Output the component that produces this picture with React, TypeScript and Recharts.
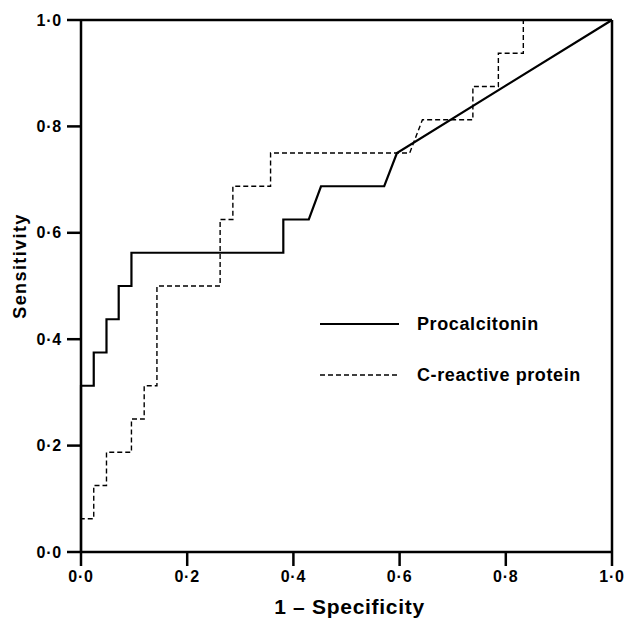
import React from 'react';
import {
  LineChart,
  Line,
  XAxis,
  YAxis,
  ReferenceLine,
  Label,
} from 'recharts';

// ROC points (1 - specificity, sensitivity)
const pctFpr = [0, 0, 0.024, 0.024, 0.048, 0.048, 0.071, 0.071, 0.095, 0.095, 0.381, 0.381, 0.429, 0.452, 0.571, 0.595, 1];
const pctTpr = [0, 0.3125, 0.3125, 0.375, 0.375, 0.4375, 0.4375, 0.5, 0.5, 0.5625, 0.5625, 0.625, 0.625, 0.6875, 0.6875, 0.75, 1];

const crpFpr = [0, 0, 0.024, 0.024, 0.048, 0.048, 0.095, 0.095, 0.119, 0.119, 0.143, 0.143, 0.262, 0.262, 0.286, 0.286, 0.357, 0.357, 0.619, 0.643, 0.738, 0.738, 0.786, 0.786, 0.833, 0.833, 1];
const crpTpr = [0, 0.0625, 0.0625, 0.125, 0.125, 0.1875, 0.1875, 0.25, 0.25, 0.3125, 0.3125, 0.5, 0.5, 0.625, 0.625, 0.6875, 0.6875, 0.75, 0.75, 0.8125, 0.8125, 0.875, 0.875, 0.9375, 0.9375, 1, 1];

const ticks = [0, 0.2, 0.4, 0.6, 0.8, 1.0];

const pctData = pctFpr.map((x, i) => ({ x, y: pctTpr[i] }));
const crpData = crpFpr.map((x, i) => ({ x, y: crpTpr[i] }));

const FONT = '"Liberation Sans", Arial, sans-serif';
const fmt = (v: number) => v.toFixed(1).replace('.', '·');

const tickStyle = { fill: '#000', fontSize: 16, fontWeight: 700, fontFamily: FONT, letterSpacing: 0.8 };

const LegendBox = () => (
  <svg width={280} height={90} style={{ position: 'absolute', left: 320, top: 310 }}>
    <line x1={0} x2={79} y1={14} y2={14} stroke="#000" strokeWidth={2.2} />
    <text x={97} y={20} fontSize={18} fontWeight={700} fontFamily={FONT} fill="#000" letterSpacing={0.6}>Procalcitonin</text>
    <line x1={0} x2={79} y1={65} y2={65} stroke="#000" strokeWidth={1.4} strokeDasharray="5 3" />
    <text x={97} y={71} fontSize={18} fontWeight={700} fontFamily={FONT} fill="#000" letterSpacing={0.6}>C-reactive protein</text>
  </svg>
);

export default function App() {
  return (
    <div style={{ position: 'absolute', left: 0, top: 0, width: 625, height: 618, background: '#fff' }}>
      <LineChart width={625} height={618} margin={{ top: 20, right: 13, left: 0, bottom: 0 }}>
        <XAxis
          type="number"
          dataKey="x"
          domain={[0, 1]}
          ticks={ticks}
          tickFormatter={fmt}
          height={66}
          stroke="#000"
          strokeWidth={2.5}
          tickSize={14}
          tickMargin={5}
          tick={tickStyle}
          allowDuplicatedCategory={false}
        >
          <Label
            content={({ viewBox }: any) => (
              <text
                x={viewBox.x + viewBox.width / 2 + 3}
                y={614}
                textAnchor="middle"
                fontSize={21}
                fontWeight={700}
                fontFamily={FONT}
                letterSpacing={0.7}
                fill="#000"
              >
                1 – Specificity
              </text>
            )}
          />
        </XAxis>
        <YAxis
          type="number"
          dataKey="y"
          domain={[0, 1]}
          ticks={ticks}
          tickFormatter={fmt}
          width={81}
          stroke="#000"
          strokeWidth={2.5}
          tickSize={14}
          tickMargin={5}
          tick={tickStyle}
        >
          <Label
            content={({ viewBox }: any) => {
              const cy = viewBox.y + viewBox.height / 2 - 20;
              return (
                <text
                  x={26}
                  y={cy}
                  transform={`rotate(-90 26 ${cy})`}
                  textAnchor="middle"
                  fontSize={18}
                  fontWeight={700}
                  fontFamily={FONT}
                  letterSpacing={1.4}
                  fill="#000"
                >
                  Sensitivity
                </text>
              );
            }}
          />
        </YAxis>
        <ReferenceLine y={1} stroke="#000" strokeWidth={2.5} />
        <ReferenceLine x={1} stroke="#000" strokeWidth={2.5} />
        <Line
          data={crpData}
          dataKey="y"
          name="C-reactive protein"
          type="linear"
          stroke="#000"
          strokeWidth={1.4}
          strokeDasharray="5 3"
          dot={false}
          isAnimationActive={false}
        />
        <Line
          data={pctData}
          dataKey="y"
          name="Procalcitonin"
          type="linear"
          stroke="#000"
          strokeWidth={2.2}
          dot={false}
          isAnimationActive={false}
        />
      </LineChart>
      <LegendBox />
    </div>
  );
}
